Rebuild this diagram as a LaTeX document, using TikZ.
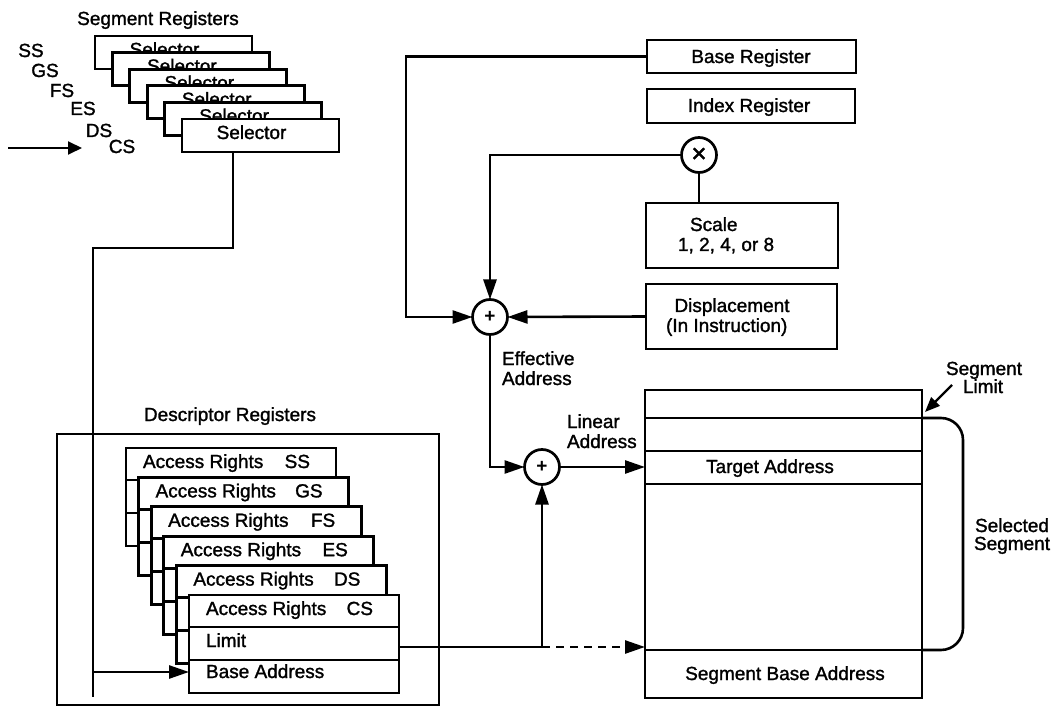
\documentclass[tikz,border=0pt]{standalone}
\usepackage{fontspec}
\setmainfont{Liberation Sans}[UprightFeatures={FakeBold=1.4}]
\usetikzlibrary{arrows.meta,calc}

\begin{document}
\begin{tikzpicture}[x=1pt,y=-1pt,
  every node/.style={font=\fontsize{19}{21}\selectfont, inner sep=0pt, outer sep=0pt},
  wire/.style={line width=2.6pt},
  arr/.style={wire,-{Triangle[length=20pt,width=13pt]}},
  boxline/.style={line width=2.7pt},
  regbox/.style={draw, boxline, fill=white, anchor=north west,
                 minimum width=#1},
  selbox/.style={regbox=157pt, minimum height=33pt},
  descbox/.style={regbox=210pt, minimum height=98pt},
  plainbox/.style={draw, boxline, anchor=north west},
  sumnode/.style={draw, circle, boxline, fill=white, minimum size=35pt},
  lbl/.style={anchor=base},
  lblw/.style={anchor=base west},
  lble/.style={anchor=base east}]

\useasboundingbox (0,0) rectangle (1057,708);

% ---- segment registers ----
\node[lbl] at (158,25) {Segment Registers};
\foreach \i in {0,...,5} {
  \node[selbox] (sel\i) at ({95+17.4*\i},{36+16.6*\i}) {};
  \node[lbl] at ($(sel\i.north west)+(69.5,20)$) {Selector};
}
\node[lbl] at (31,57) {SS};
\node[lbl] at (45,77) {GS};
\node[lbl] at (62,97) {FS};
\node[lbl] at (83,115) {ES};
\node[lbl] at (99,137) {DS};
\node[lbl] at (122,153) {CS};

\coordinate (in0) at (8,148);
\coordinate (in1) at (82,148);
\draw[line width=2pt,-{Triangle[length=14pt,width=13pt]}] (in0) -- (in1);

% ---- descriptor registers ----
\node[lbl] at (230,421) {Descriptor Registers};
\node[plainbox, minimum width=382pt, minimum height=271pt] (dr) at (57,434) {};

\foreach \i/\s in {0/SS,1/GS,2/FS,3/ES,4/DS,5/CS} {
  \node[descbox] (d\i) at ({126+12.6*\i},{448+29.4*\i}) {};
  \draw[boxline] ($(d\i.north west)+(0,32)$) -- ($(d\i.north east)+(0,32)$);
  \draw[boxline] ($(d\i.north west)+(0,65)$) -- ($(d\i.north east)+(0,65)$);
  \node[lblw] at ($(d\i.north west)+(17,20)$) {Access Rights};
  \node[lble] at ($(d\i.north east)+(-26,20)$) {\s};
}
\node[lblw] at ($(d5.north west)+(17,52)$) {Limit};
\node[lblw] at ($(d5.north west)+(17,83)$) {Base Address};

% selector to descriptor
\coordinate (selout) at ($(sel5.south west)+(51,0)$);
\coordinate (jl) at (93,248);
\coordinate (jt) at (93,672);
\coordinate (jb) at (93,697);
\draw[wire] (selout) |- (jl) -- (jb);
\draw[arr] (jt) -- (jt -| d5.west);

% ---- address computation ----
\node[plainbox, minimum width=209pt, minimum height=33pt] (basereg) at (647,40) {};
\node[lbl] at (751,63) {Base Register};
\node[plainbox, minimum width=208pt, minimum height=34pt] (idxreg) at (647,89) {};
\node[lbl] at (749,112) {Index Register};

\node[sumnode] (mult) at (699,155) {};
\node at (mult.center) {\fontsize{26}{26}\selectfont ×};

\node[plainbox, minimum width=192pt, minimum height=65pt] (scale) at (646,203) {};
\node[lblw] at (690,231) {Scale};
\node[lblw] at (678,251) {1, 2, 4, or 8};

\node[plainbox, minimum width=191pt, minimum height=65pt] (disp) at (646,284) {};
\node[lbl] at (732,312) {Displacement};
\node[lblw] at (666,332) {(In Instruction)};

\node[sumnode] (add1) at (490,317) {};
\node at (add1.center) {\fontsize{19}{19}\selectfont\bfseries +};
\node[sumnode] (add2) at (542,467) {};
\node at (add2.center) {\fontsize{19}{19}\selectfont\bfseries +};

\node[lblw] at (502,365) {Effective};
\node[lblw] at (502,385) {Address};
\node[lblw] at (567,428) {Linear};
\node[lblw] at (567,448) {Address};

\coordinate (lb) at (406,200);
\draw[arr] (basereg.west) -| (lb) |- (add1.west);
\draw[arr] (mult.west) -| (add1.north);
\draw[wire] (mult.south) -- (mult.south |- scale.north);
\draw[arr] (disp.west) -- (add1.east);
\draw[arr] (add1.south) |- (add2.west);

% ---- selected segment ----
\node[plainbox, minimum width=277pt, minimum height=308pt] (seg) at (645,390) {};
\foreach \r in {28,61,94,260} {
  \draw[boxline] ($(seg.north west)+(0,\r)$) -- ($(seg.north east)+(0,\r)$);
}
\node[lbl] at (770,473) {Target Address};
\node[lbl] at (785,680) {Segment Base Address};

\draw[arr] (add2.east) -- (add2.east -| seg.west);

\coordinate (lim) at ($(d5.north east)+(0,52)$);
\coordinate (split) at (add2 |- lim);
\draw[wire] (lim) -- (split);
\draw[arr] (split) -- (add2.south);
\draw[arr, dash pattern=on 8pt off 6pt] (split) -- (split -| seg.west);

\draw[wire, rounded corners=22pt] ($(seg.north east)+(0,28)$) -- (963,418)
  -- (963,650) -- ($(seg.north east)+(0,260)$);
\node[lbl] at (1012,532) {Selected};
\node[lbl] at (1012,550) {Segment};

\node[lbl] at (984,375) {Segment};
\node[lbl] at (983,393) {Limit};
\coordinate (sl0) at (952,385);
\coordinate (sl1) at (925,412);
\draw[line width=2.2pt,-{Triangle[length=15pt,width=12pt]}] (sl0) -- (sl1);

\end{tikzpicture}
\end{document}
